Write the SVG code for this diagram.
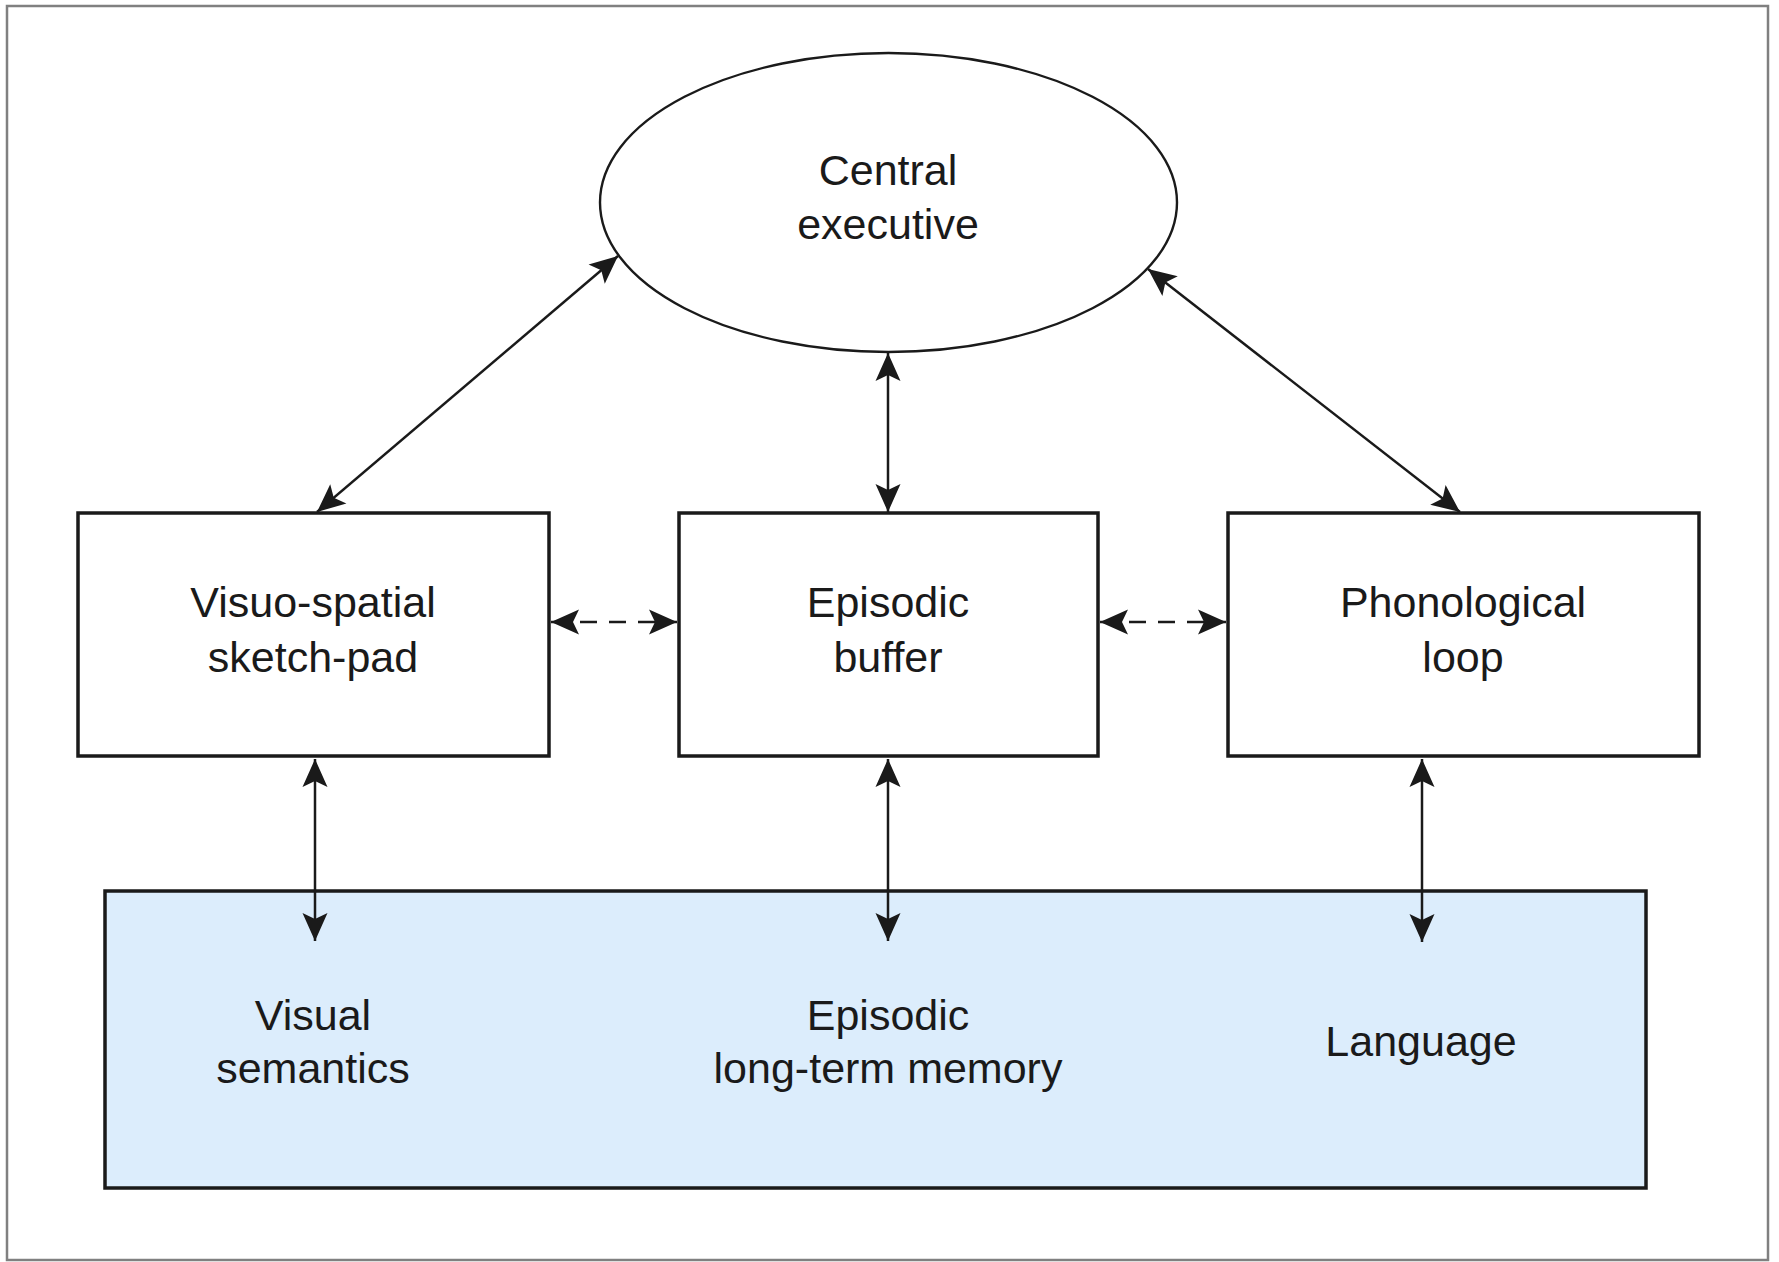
<svg xmlns="http://www.w3.org/2000/svg" width="1779" height="1262" viewBox="0 0 1779 1262">
<style>
.frame{fill:#fff;stroke:#808080;stroke-width:2.5}
.box{fill:#fff;stroke:#1a1a1a;stroke-width:3.5}
.ltm{fill:#dcedfc;stroke:#1a1a1a;stroke-width:3.5}
.ell{fill:#fff;stroke:#1a1a1a;stroke-width:2.4}
.lbl{font-family:"Liberation Sans",Arial,Helvetica,sans-serif;font-size:43px;fill:#1a1a1a;text-anchor:middle}
.con{stroke:#1a1a1a;stroke-width:2.5;fill:none;marker-start:url(#ah);marker-end:url(#ah)}
.dash{stroke-dasharray:17 12}
</style>
<defs>
<marker id="ah" viewBox="-29 -14 30 28" refX="0" refY="0" markerWidth="30" markerHeight="28" markerUnits="userSpaceOnUse" orient="auto-start-reverse">
<path d="M0,0 L-28,-12.5 L-22,0 L-28,12.5 Z" fill="#1a1a1a"/>
</marker>
</defs>
<rect class="frame" x="7" y="6" width="1761" height="1254"/>
<g id="central-executive">
<ellipse class="ell" cx="888.5" cy="202.5" rx="288.5" ry="149.5"/>
<text class="lbl" x="888" y="185">Central</text>
<text class="lbl" x="888" y="239">executive</text>
</g>
<g id="visuo-spatial">
<rect class="box" x="78" y="513" width="471" height="243"/>
<text class="lbl" x="313" y="617">Visuo-spatial</text>
<text class="lbl" x="313" y="672">sketch-pad</text>
</g>
<g id="episodic-buffer">
<rect class="box" x="679" y="513" width="419" height="243"/>
<text class="lbl" x="888" y="617">Episodic</text>
<text class="lbl" x="888" y="672">buffer</text>
</g>
<g id="phonological-loop">
<rect class="box" x="1228" y="513" width="471" height="243"/>
<text class="lbl" x="1463" y="617">Phonological</text>
<text class="lbl" x="1463" y="672">loop</text>
</g>
<g id="long-term-memory">
<rect class="ltm" x="105" y="891" width="1541" height="297"/>
<text class="lbl" x="313" y="1030">Visual</text>
<text class="lbl" x="313" y="1083">semantics</text>
<text class="lbl" x="888" y="1030">Episodic</text>
<text class="lbl" x="888" y="1083">long-term memory</text>
<text class="lbl" x="1421" y="1056">Language</text>
</g>
<g id="connectors">
<line class="con" x1="618" y1="256" x2="317" y2="512"/>
<line class="con" x1="1148" y1="269" x2="1460" y2="512"/>
<line class="con" x1="888" y1="353" x2="888" y2="512"/>
<line class="con dash" x1="551" y1="622" x2="677" y2="622"/>
<line class="con dash" x1="1100" y1="622" x2="1226" y2="622"/>
<line class="con" x1="315" y1="759" x2="315" y2="941"/>
<line class="con" x1="888" y1="759" x2="888" y2="941"/>
<line class="con" x1="1422" y1="759" x2="1422" y2="942"/>
</g>
</svg>
